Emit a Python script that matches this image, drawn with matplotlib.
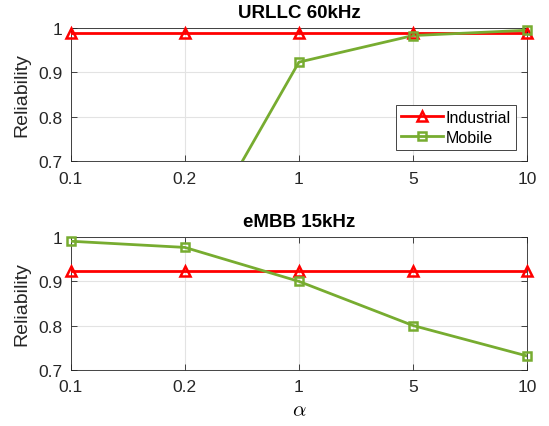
import matplotlib.pyplot as plt

plt.rcParams['font.family'] = ['Liberation Sans', 'DejaVu Sans']
plt.rcParams['mathtext.fontset'] = 'cm'

alpha_labels = ["0.1", "0.2", "1", "5", "10"]
urllc_industrial = [0.989, 0.989, 0.989, 0.989, 0.989]
urllc_mobile = [0.45, 0.472, 0.923, 0.983, 0.995]
embb_industrial = [0.924, 0.924, 0.924, 0.924, 0.924]
embb_mobile = [0.991, 0.977, 0.90, 0.80, 0.731]

red = (1, 0, 0)
green = (0.466, 0.674, 0.188)
xs = list(range(len(alpha_labels)))
ylo, yhi = 0.7, 1.0

fig = plt.figure(figsize=(5.49, 4.27), dpi=100)
ax1 = fig.add_axes([0.129, 0.621, 0.831, 0.311])
ax2 = fig.add_axes([0.129, 0.132, 0.831, 0.310])

panels = [(ax1, "URLLC 60kHz", urllc_industrial, urllc_mobile),
          (ax2, "eMBB 15kHz", embb_industrial, embb_mobile)]


def series(ax, x, y, color, marker, ms, label):
    # line clipped to the axes, markers of visible points drawn whole at the edges
    ax.plot(x, y, color=color, lw=2, zorder=3)
    vis = [(a, b) for a, b in zip(x, y) if ylo <= b <= yhi]
    ax.plot([a for a, _ in vis], [b for _, b in vis], ls='none', marker=marker,
            ms=ms, mfc='none', mec=color, mew=1.8, clip_on=False, zorder=4)
    ax.plot([], [], color=color, lw=2, marker=marker, ms=ms, mfc='none',
            mec=color, mew=1.8, label=label)


for ax, title, ind, mob in panels:
    series(ax, xs, ind, red, '^', 7, "Industrial")
    series(ax, xs, mob, green, 's', 6, "Mobile")
    ax.set_xlim(0, len(xs) - 1)
    ax.set_ylim(ylo, yhi)
    ax.set_xticks(xs)
    ax.set_xticklabels(alpha_labels)
    ax.set_yticks([0.7, 0.8, 0.9, 1.0])
    ax.set_yticklabels(["0.7", "0.8", "0.9", "1"])
    ax.tick_params(direction='in', top=True, right=True, labelsize=12.5,
                   colors='#262626', length=4, width=0.6)
    ax.tick_params(axis='x', pad=7)
    ax.tick_params(axis='y', pad=6)
    ax.grid(True, color='#e3e3e3', lw=0.8)
    ax.set_axisbelow(True)
    for s in ax.spines.values():
        s.set_color('#262626')
        s.set_linewidth(0.6)
    ax.set_title(title, fontsize=13.5, fontweight='bold', pad=8)
    ax.set_ylabel("Reliability", fontsize=14, color='#262626', labelpad=6)

ax2.set_xlabel(r'$\alpha$', fontsize=15, labelpad=4)

leg = ax1.legend(loc='lower right', fontsize=11.5, fancybox=False, framealpha=1,
                 edgecolor='#262626', borderpad=0.3, handlelength=2.6,
                 handletextpad=0.2, labelspacing=0.3, borderaxespad=0.7)
leg.get_frame().set_linewidth(0.6)

fig.savefig("out.png", dpi=100)
